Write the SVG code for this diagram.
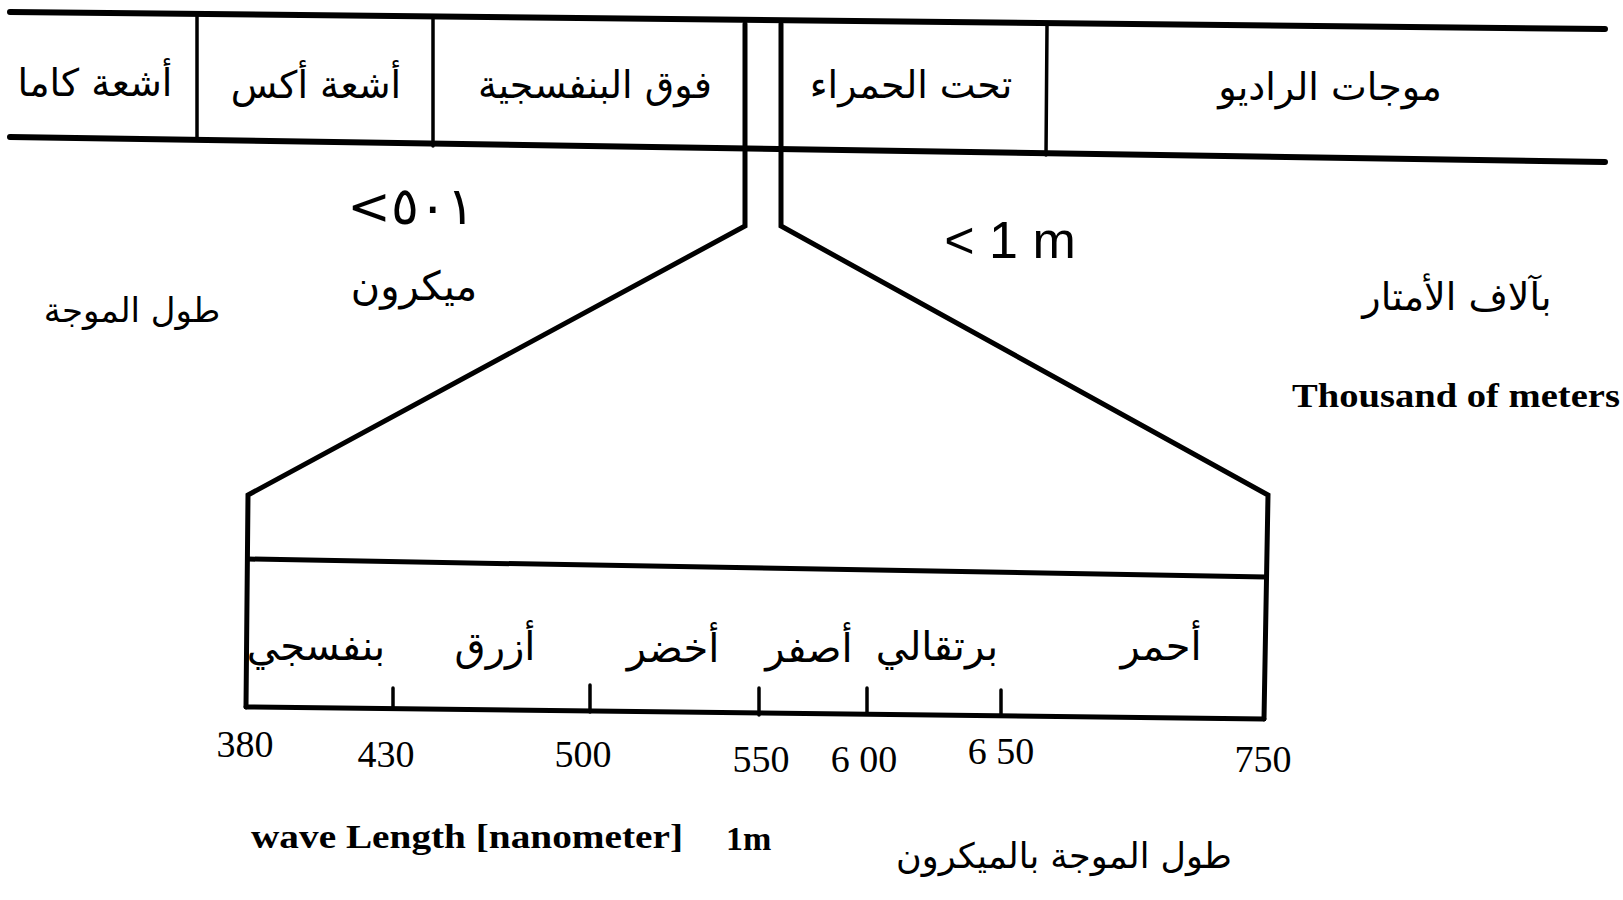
<svg xmlns="http://www.w3.org/2000/svg" width="1623" height="900" viewBox="0 0 1623 900">
<style>
.ln{stroke:#000;fill:none;stroke-linecap:round;stroke-linejoin:miter}
.thick{stroke-width:6}
.mid{stroke-width:5}
.thin{stroke-width:3.5}
.ar{font-family:"DejaVu Sans","Noto Sans",sans-serif;fill:#000;text-anchor:middle}
.num{font-family:"Liberation Serif","DejaVu Serif",serif;fill:#000;text-anchor:middle;font-size:38px}
.en{font-family:"Liberation Serif","DejaVu Serif",serif;fill:#000;font-weight:bold}
</style>
<rect width="1623" height="900" fill="#fff"/>
<g id="connectors">
<line class="ln thick" x1="10" y1="12" x2="1605" y2="29"/>
<line class="ln thick" x1="10" y1="137" x2="1605" y2="162"/>
<polyline class="ln mid" points="745,24 745,226 248,495 246,707"/>
<polyline class="ln mid" points="781,24 781,226 1268,495 1264,719"/>
<line class="ln mid" x1="248" y1="559" x2="1266" y2="577"/>
<line class="ln mid" x1="246" y1="707" x2="1264" y2="719"/>
</g>
<g id="band-gamma">
<line class="ln thin" x1="197" y1="15" x2="197" y2="139"/>
<text class="ar" x="95" y="96" font-size="38">أشعة كاما</text>
</g>
<g id="band-xray">
<line class="ln thin" x1="433" y1="17" x2="433" y2="146"/>
<text class="ar" x="316" y="98" font-size="38">أشعة أكس</text>
</g>
<g id="band-uv">
<text class="ar" x="595" y="98" font-size="38">فوق البنفسجية</text>
</g>
<g id="band-ir">
<line class="ln thin" x1="1047" y1="26" x2="1046" y2="155"/>
<text class="ar" x="911" y="98" font-size="38">تحت الحمراء</text>
</g>
<g id="band-radio">
<text class="ar" x="1330" y="100" font-size="38">موجات الراديو</text>
</g>
<g id="labels-top">
<text class="ar" x="411" y="224" font-size="52" direction="ltr">&lt;٥٠١</text>
<text class="ar" x="414" y="300" font-size="40">ميكرون</text>
<text class="ar" x="132" y="322" font-size="34">طول الموجة</text>
<text x="1010" y="258" font-family="Liberation Sans,sans-serif" font-size="52" text-anchor="middle">&lt; 1 m</text>
<text class="ar" x="1457" y="310" font-size="38">بآلاف الأمتار</text>
<text class="en" x="1292" y="407" font-size="34" textLength="328" lengthAdjust="spacingAndGlyphs">Thousand of meters</text>
</g>
<g id="visible-scale">
<line class="ln thin" x1="393" y1="688" x2="393" y2="709"/>
<line class="ln thin" x1="590" y1="685" x2="590" y2="712"/>
<line class="ln thin" x1="759" y1="688" x2="759" y2="715"/>
<line class="ln thin" x1="867" y1="688" x2="867" y2="713"/>
<line class="ln thin" x1="1001" y1="690" x2="1001" y2="715"/>
<text class="ar" x="316" y="660" font-size="40">بنفسجي</text>
<text class="ar" x="495" y="660" font-size="40">أزرق</text>
<text class="ar" x="673" y="662" font-size="40">أخضر</text>
<text class="ar" x="809" y="662" font-size="40">أصفر</text>
<text class="ar" x="937" y="660" font-size="40">برتقالي</text>
<text class="ar" x="1161" y="660" font-size="40">أحمر</text>
<text class="num" x="245" y="757">380</text>
<text class="num" x="386" y="767">430</text>
<text class="num" x="583" y="767">500</text>
<text class="num" x="761" y="772">550</text>
<text class="num" x="864" y="772">6 00</text>
<text class="num" x="1001" y="764">6 50</text>
<text class="num" x="1263" y="772">750</text>
</g>
<g id="axis-titles">
<text class="en" x="251" y="848" font-size="34" textLength="432" lengthAdjust="spacingAndGlyphs">wave Length [nanometer]</text>
<text class="en" x="726" y="850" font-size="34">1m</text>
<text class="ar" x="1064" y="868" font-size="35">طول الموجة بالميكرون</text>
</g>
</svg>
